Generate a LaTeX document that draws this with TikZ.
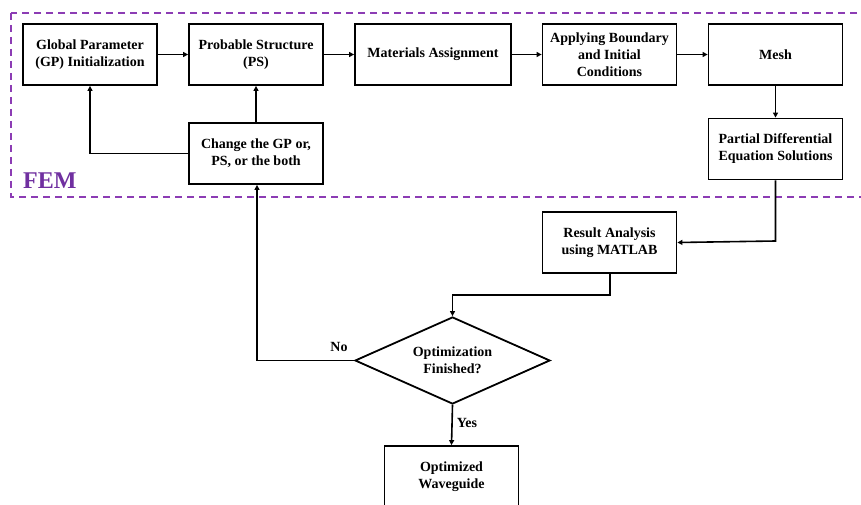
\documentclass[tikz,border=0pt]{standalone}
\usepackage{fontspec}
\setmainfont{Liberation Serif}
\usetikzlibrary{arrows.meta,shapes.geometric}
\definecolor{femtext}{RGB}{112,48,160}
\definecolor{femline}{RGB}{140,60,180}
\tikzset{
  box/.style={draw=black,line width=1.8pt,fill=white,minimum width=134pt,minimum height=61pt,align=center,inner sep=2pt,font=\fontsize{14}{17}\selectfont\bfseries},
  decision/.style={draw=black,line width=1.8pt,fill=white,diamond,aspect=2.24,minimum width=195pt,minimum height=87pt,inner sep=0pt,align=center,font=\fontsize{14}{17}\selectfont\bfseries},
  conn/.style={line width=1.6pt,-{Triangle[length=5pt,width=5pt]}},
  lbl/.style={font=\fontsize{14}{17}\selectfont\bfseries},
}
\begin{document}
\begin{tikzpicture}[x=1pt,y=-1pt]
\useasboundingbox (0,0) rectangle (861,505);
\draw[femline,line width=2pt,dash pattern=on 7pt off 5pt] (11,13) rectangle (868,197);
\node[font=\fontsize{24}{26}\selectfont\bfseries,text=femtext,anchor=south west,inner sep=0pt] (fem) at (23,189) {FEM};

\node[box] (gp) at (90,54.5) {Global Parameter\\(GP) Initialization};
\node[box] (ps) at (256,54.5) {Probable Structure\\(PS)};
\node[box,minimum width=156pt] (mat) at (433,54.5) {Materials Assignment};
\node[box] (app) at (609.5,54.5) {Applying Boundary\\and Initial\\Conditions};
\node[box] (mesh) at (775.5,54.5) {Mesh};
\node[box] (pde) at (775.5,149) {Partial Differential\\Equation Solutions};
\node[box] (chg) at (256,153.5) {Change the GP or,\\PS, or the both};
\node[box] (res) at (609.5,242.5) {Result Analysis\\using MATLAB};
\node[decision] (opt) at (452.5,360.5) {Optimization\\Finished?};
\node[box] (wg) at (451.5,476.5) {Optimized\\Waveguide};

\coordinate (c1) at (775.5,241);
\coordinate (c2) at (610,295);
\coordinate (c3) at (452.5,295);
\coordinate (c4) at (257,360.5);
\coordinate (c5) at (90,153.5);

\draw[conn] (gp) -- (ps);
\draw[conn] (ps) -- (mat);
\draw[conn] (mat) -- (app);
\draw[conn] (app) -- (mesh);
\draw[conn] (mesh) -- (pde);
\draw[conn] (pde.south) -- (c1) -- (res.east);
\draw[conn] (res.south -| c2) -- (c2) -- (c3) -- (opt.north);
\draw[conn] (opt.west) -- (c4) -- (chg.south -| c4);
\draw[conn] (chg) -- (ps);
\draw[conn] (chg.west) -- (c5) -- (gp.south);
\draw[conn] (opt.south) -- (wg.north);

\node[lbl] (no) at (339,347) {No};
\node[lbl] (yes) at (467,423) {Yes};
\end{tikzpicture}
\end{document}
